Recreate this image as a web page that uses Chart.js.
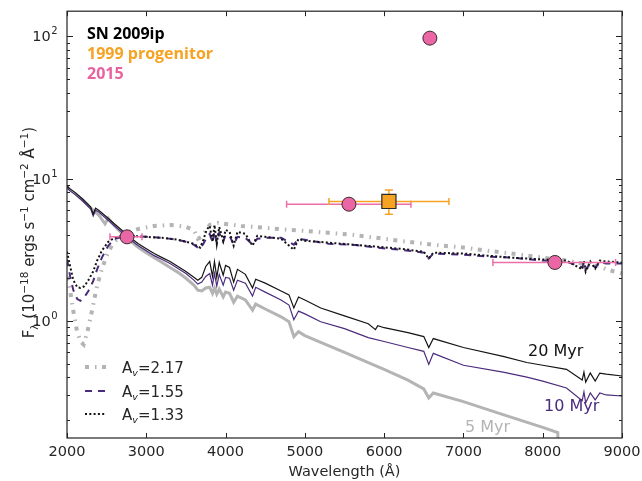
<!DOCTYPE html>
<html><head><meta charset="utf-8">
<script src="https://cdn.jsdelivr.net/npm/chart.js@4"></script>
<style>html,body{margin:0;padding:0;background:#fff}canvas{display:block}</style>
</head><body>
<canvas id="c" width="642" height="481" style="width:642px;height:481px"></canvas>
<script>
// ---------- data (wavelength in Å, flux in 1e-18 erg/s/cm2/Å) ----------
const wl20 = [2000,2030,2100,2200,2300,2330,2360,2400,2500,2600,2700,2800,2900,3000,3100,3200,3300,3400,3500,3600,3650,3700,3750,3800,3835,3860,3889,3920,3970,4000,4050,4102,4150,4250,4340,4380,4500,4700,4800,4861,4920,5000,5200,5500,5800,5890,5920,6000,6300,6500,6563,6620,7000,7500,7800,8000,8300,8498,8520,8542,8600,8662,8720,8800,9000];
const f20  = [8.94,8.52,7.99,7.15,6.29,5.62,6.19,5.99,5.36,4.79,4.29,3.83,3.48,3.21,2.97,2.78,2.61,2.41,2.22,2.02,1.93,2.02,2.41,2.61,2.05,2.61,2.02,2.57,2.09,2.45,2.37,1.87,2.30,2.12,1.70,1.96,1.84,1.62,1.52,1.23,1.47,1.40,1.23,1.083,0.953,0.866,0.923,0.894,0.825,0.774,0.649,0.750,0.649,0.562,0.509,0.487,0.456,0.383,0.436,0.371,0.429,0.377,0.429,0.422,0.409];

const wl10 = [2000,2030,2100,2200,2300,2330,2360,2400,2500,2600,2700,2800,2900,3000,3100,3200,3300,3400,3500,3600,3650,3700,3750,3800,3835,3860,3889,3920,3970,4000,4050,4102,4150,4250,4340,4380,4500,4700,4800,4861,4920,5000,5200,5500,5800,6000,6300,6500,6563,6620,7000,7500,7800,8000,8300,8498,8520,8542,8600,8662,8720,8800,9000];
const f10  = [8.66,8.25,7.74,6.92,6.09,5.45,5.99,5.81,5.19,4.64,4.15,3.71,3.37,3.11,2.87,2.70,2.53,2.33,2.15,1.93,1.81,1.87,2.05,2.15,1.78,2.15,1.75,2.12,1.78,2.02,1.99,1.64,1.93,1.84,1.49,1.72,1.59,1.40,1.29,1.016,1.17,1.118,0.984,0.880,0.762,0.715,0.649,0.610,0.494,0.590,0.487,0.436,0.402,0.377,0.337,0.274,0.316,0.265,0.311,0.278,0.311,0.301,0.296];

const wl5  = [2000,2100,2200,2300,2400,2480,2520,2600,2700,2800,2900,3000,3100,3200,3300,3400,3500,3600,3650,3700,3750,3800,3835,3860,3889,3920,3970,4000,4050,4102,4150,4250,4340,4380,4500,4700,4800,4861,4920,5000,5200,5500,5800,6000,6300,6500,6563,6620,7000,7500,8000,8190,8200];
const f5   = [8.66,7.86,7.04,6.19,5.54,4.79,5.27,4.64,4.08,3.65,3.27,3.01,2.78,2.57,2.37,2.19,1.99,1.78,1.64,1.62,1.70,1.72,1.56,1.70,1.54,1.67,1.47,1.59,1.56,1.35,1.49,1.40,1.19,1.31,1.21,1.066,0.984,0.774,0.839,0.787,0.704,0.600,0.509,0.456,0.383,0.332,0.287,0.311,0.270,0.219,0.178,0.164,0.091];

const wlA  = [2000,2040,2080,2120,2170,2210,2260,2310,2370,2430,2500,2570,2650,2750,2900,3100,3300,3500,3600,3650,3700,3750,3800,3900,4000,4200,4500,4800,5000,5300,5600,6000,6300,6600,7000,7300,7600,8000,8300,8500,8600,8700,8800,9000];
const fA   = [2.05,1.62,1.17,0.880,0.715,0.681,0.852,1.137,1.67,2.22,2.87,3.43,3.83,4.15,4.42,4.64,4.72,4.57,4.35,3.77,3.89,4.29,4.72,4.87,4.79,4.64,4.50,4.35,4.29,4.15,4.02,3.77,3.59,3.43,3.27,3.11,2.97,2.78,2.65,2.53,2.37,2.45,2.30,2.15];

const wlB  = [2000,2040,2080,2130,2170,2220,2270,2330,2380,2440,2520,2600,2700,2800,3000,3200,3400,3500,3600,3650,3680,3720,3760,3800,3835,3860,3889,3920,3970,4000,4050,4102,4150,4250,4340,4400,4500,4700,4861,4920,5000,5300,5600,5900,6200,6500,6563,6620,7000,7300,7600,8000,8300,8498,8520,8542,8600,8662,8720,8800,9000];
const fB   = [2.70,2.05,1.64,1.42,1.38,1.47,1.62,1.90,2.30,2.78,3.37,3.77,3.89,3.96,3.89,3.83,3.71,3.59,3.43,3.27,3.21,3.48,3.83,4.08,3.54,4.22,3.54,4.15,3.59,4.02,3.96,3.43,3.89,3.83,3.43,3.77,3.83,3.83,3.43,3.77,3.71,3.48,3.43,3.27,3.16,3.01,2.74,2.97,2.92,2.83,2.78,2.65,2.61,2.37,2.57,2.30,2.53,2.37,2.57,2.53,2.53];

const wlC  = wlB;
const fC   = [3.06,2.41,1.93,1.72,1.70,1.75,1.93,2.22,2.65,3.11,3.59,3.83,3.96,3.96,3.89,3.83,3.71,3.59,3.48,3.32,3.27,3.71,4.35,4.64,3.59,4.72,3.48,4.57,3.65,4.35,4.22,3.37,4.22,4.08,3.37,3.96,3.89,3.77,3.16,3.77,3.65,3.54,3.43,3.32,3.21,3.06,2.74,3.01,2.97,2.87,2.78,2.70,2.65,2.30,2.65,2.22,2.61,2.33,2.65,2.61,2.57];

// photometry
const pinkX   = [2757, 5556, 6577, 8154];
const pinkY   = [3.89, 6.6, 97, 2.57];
const pinkXLo = [2542, 4770, null, 7372];
const pinkXHi = [2946, 6338, null, 8919];
const orangeX   = [6060];
const orangeY   = [6.9];
const orangeXLo = [5304];
const orangeXHi = [6817];
const orangeYLo = [5.6];
const orangeYHi = [8.3];

// axes
const xTicks = [2000,3000,4000,5000,6000,7000,8000,9000];
const yMajor = [1,10,100];
const yExp   = ['0','1','2'];
const yMinorMult = [2,3,4,5,6,7,8,9];
const yDecades = [0.1,1,10,100];

// ---------- styles ----------
const COL = {gray:'#b4b4b4', purple:'#4b2b7c', black:'#141414', pink:'#ea66a4', pinkBar:'#ec6fa8', orange:'#f6a222', text:'#262626', edge:'#3a2a30'};
const FONT = '"DejaVu Sans", sans-serif';

const pts = (w,f) => w.map((v,i)=>({x:v,y:f[i]}));

const lineDS = (label, w, f, color, width, dash) => ({
  type:'line', label, data:pts(w,f), borderColor:color, borderWidth:width,
  borderDash:dash||[], borderCapStyle:'butt', borderJoinStyle:'miter',
  pointRadius:0, tension:0, fill:false
});

const dsPink = {type:'scatter', label:'2015', data:pts(pinkX,pinkY), pointStyle:'circle',
  pointRadius:7, pointBackgroundColor:COL.pink, pointBorderColor:COL.edge, pointBorderWidth:1};
const dsOrange = {type:'scatter', label:'1999 progenitor', data:pts(orangeX,orangeY), pointStyle:'rect',
  pointRadius:10, pointBackgroundColor:COL.orange, pointBorderColor:'#2a2a2a', pointBorderWidth:1.2};

const dsA = lineDS('Av=2.17', wlA, fA, COL.gray, 4, [4,6,1.5,5.5]);
const dsB = lineDS('Av=1.55', wlB, fB, COL.purple, 2, [7,6]);
const dsC = lineDS('Av=1.33', wlC, fC, COL.black, 2, [2,2.3]);

function drawErrorBars(chart){
  const {ctx, scales:{x,y}} = chart;
  ctx.save();
  ctx.lineWidth = 1.5;
  ctx.strokeStyle = COL.pinkBar;
  ctx.beginPath();
  for (let i=0;i<pinkX.length;i++){
    if (pinkXLo[i]==null) continue;
    const yy = y.getPixelForValue(pinkY[i]);
    const x1 = x.getPixelForValue(pinkXLo[i]), x2 = x.getPixelForValue(pinkXHi[i]);
    ctx.moveTo(x1,yy); ctx.lineTo(x2,yy);
    ctx.moveTo(x1,yy-3.5); ctx.lineTo(x1,yy+3.5);
    ctx.moveTo(x2,yy-3.5); ctx.lineTo(x2,yy+3.5);
  }
  ctx.stroke();
  ctx.strokeStyle = COL.orange;
  ctx.beginPath();
  for (let i=0;i<orangeX.length;i++){
    const xx = x.getPixelForValue(orangeX[i]), yy = y.getPixelForValue(orangeY[i]);
    const x1 = x.getPixelForValue(orangeXLo[i]), x2 = x.getPixelForValue(orangeXHi[i]);
    const y1 = y.getPixelForValue(orangeYLo[i]), y2 = y.getPixelForValue(orangeYHi[i]);
    ctx.moveTo(x1,yy); ctx.lineTo(x2,yy);
    ctx.moveTo(x1,yy-3.5); ctx.lineTo(x1,yy+3.5);
    ctx.moveTo(x2,yy-3.5); ctx.lineTo(x2,yy+3.5);
    ctx.moveTo(xx,y1); ctx.lineTo(xx,y2);
    ctx.moveTo(xx-4,y1); ctx.lineTo(xx+4,y1);
    ctx.moveTo(xx-4,y2); ctx.lineTo(xx+4,y2);
  }
  ctx.stroke();
  ctx.restore();
}

function drawSegs(ctx, segs, x0, y0){
  let xx = x0;
  for (const [t,size,off,style] of segs){
    ctx.font = (style||'') + ' ' + size + 'px ' + FONT;
    ctx.fillText(t, xx, y0+off);
    xx += ctx.measureText(t).width;
  }
  return xx;
}
function segsWidth(ctx, segs){
  let w=0;
  for (const [t,size,off,style] of segs){ ctx.font=(style||'')+' '+size+'px '+FONT; w+=ctx.measureText(t).width; }
  return w;
}

const deco = {
  id:'deco',
  beforeDatasetDraw(chart,args){ if (args.index===1) drawErrorBars(chart); },
  afterDraw(chart){
    const {ctx, chartArea:a, scales:{x,y}} = chart;
    ctx.save();
    // frame
    ctx.strokeStyle = '#222'; ctx.lineWidth = 1.2;
    ctx.strokeRect(a.left, a.top, a.right-a.left, a.bottom-a.top);
    // x ticks
    ctx.lineWidth = 1;
    ctx.beginPath();
    for (const v of xTicks){
      const px = Math.round(x.getPixelForValue(v))+0.5;
      ctx.moveTo(px,a.bottom); ctx.lineTo(px,a.bottom-5);
      ctx.moveTo(px,a.top); ctx.lineTo(px,a.top+5);
    }
    // y ticks
    for (const d of yDecades){
      for (const m of [1].concat(yMinorMult)){
        const v = d*m;
        if (v < y.min || v > y.max) continue;
        const py = Math.round(y.getPixelForValue(v))+0.5;
        const len = m===1 ? 6 : 3;
        ctx.moveTo(a.left,py); ctx.lineTo(a.left+len,py);
        ctx.moveTo(a.right,py); ctx.lineTo(a.right-len,py);
      }
    }
    ctx.stroke();
    // x tick labels
    ctx.fillStyle = COL.text;
    ctx.font = '14.5px ' + FONT;
    ctx.textAlign = 'center'; ctx.textBaseline = 'alphabetic';
    for (const v of xTicks){
      ctx.fillText(String(v), x.getPixelForValue(v), 455.5);
    }
    // y tick labels: 10^n
    ctx.textAlign = 'left';
    yMajor.forEach((v,i)=>{
      const py = y.getPixelForValue(v);
      ctx.font = '10px ' + FONT;
      const we = ctx.measureText(yExp[i]).width;
      ctx.font = '14.5px ' + FONT;
      const wb = ctx.measureText('10').width;
      const right = 57.5;
      ctx.fillText('10', right - we - wb - 0.5, py + 5.2);
      ctx.font = '10px ' + FONT;
      ctx.fillText(yExp[i], right - we, py - 2);
    });
    // x title
    ctx.textAlign = 'center';
    ctx.font = '14.5px ' + FONT;
    ctx.fillText('Wavelength (Å)', (a.left+a.right)/2, 476);
    // y title
    const ys = [['F',15,0],['λ',10.5,3.5],[' (10',15,0],['−18',10.5,-6.5],[' ergs s',15,0],['−1',10.5,-6.5],[' cm',15,0],['−2',10.5,-6.5],[' Å',15,0],['−1',10.5,-6.5],[')',15,0]];
    ctx.save();
    ctx.translate(34, (a.top+a.bottom)/2 + 8);
    ctx.rotate(-Math.PI/2);
    ctx.textAlign = 'left';
    const tw = segsWidth(ctx, ys);
    drawSegs(ctx, ys, -tw/2, 0);
    ctx.restore();

    // annotations top-left
    ctx.textAlign = 'left';
    ctx.font = 'bold 16px "Open Sans", ' + FONT;
    ctx.fillStyle = '#000'; ctx.fillText('SN 2009ip', 87, 38.5);
    ctx.fillStyle = COL.orange; ctx.fillText('1999 progenitor', 87, 58.5);
    ctx.fillStyle = '#e9629f'; ctx.fillText('2015', 87, 78.7);

    // model labels
    ctx.font = '16px ' + FONT;
    ctx.fillStyle = '#111'; ctx.fillText('20 Myr', 528, 356);
    ctx.fillStyle = COL.purple; ctx.fillText('10 Myr', 544, 410.5);
    ctx.fillStyle = COL.gray; ctx.fillText('5 Myr', 465, 431.5);

    // legend
    const leg = [[dsA, 'A', '2.17', 367],[dsB,'A','1.55',391],[dsC,'A','1.33',414]];
    for (const [ds, a1, val, ly] of leg){
      ctx.save();
      ctx.strokeStyle = ds.borderColor; ctx.lineWidth = ds.borderWidth;
      ctx.setLineDash(ds.borderDash); ctx.lineCap = 'butt';
      ctx.beginPath(); ctx.moveTo(85, ly); ctx.lineTo(106, ly); ctx.stroke();
      ctx.restore();
      ctx.fillStyle = COL.text;
      drawSegs(ctx, [['A',15,0],['v',9.5,3,'italic'],['='+val,15,0]], 122, ly+5.5);
    }
    ctx.restore();
  }
};

new Chart(document.getElementById('c'), {
  type:'line',
  data:{ datasets:[
    dsPink, dsOrange,
    dsC, dsB, dsA,
    lineDS('20 Myr', wl20, f20, COL.black, 1.2),
    lineDS('10 Myr', wl10, f10, COL.purple, 1.2),
    lineDS('5 Myr', wl5, f5, COL.gray, 3)
  ]},
  options:{
    responsive:false, animation:false, devicePixelRatio:1,
    layout:{padding:{top:7,right:20,left:0,bottom:0}},
    plugins:{legend:{display:false}, tooltip:{enabled:false}},
    scales:{
      x:{type:'linear', min:2000, max:9000, grid:{display:false}, border:{display:false}, ticks:{display:false},
         afterFit(s){ s.height = 43; }},
      y:{type:'logarithmic', min:0.15, max:150, grid:{display:false}, border:{display:false}, ticks:{display:false},
         afterFit(s){ s.width = 67; }}
    }
  },
  plugins:[deco]
});
</script>
</body></html>
